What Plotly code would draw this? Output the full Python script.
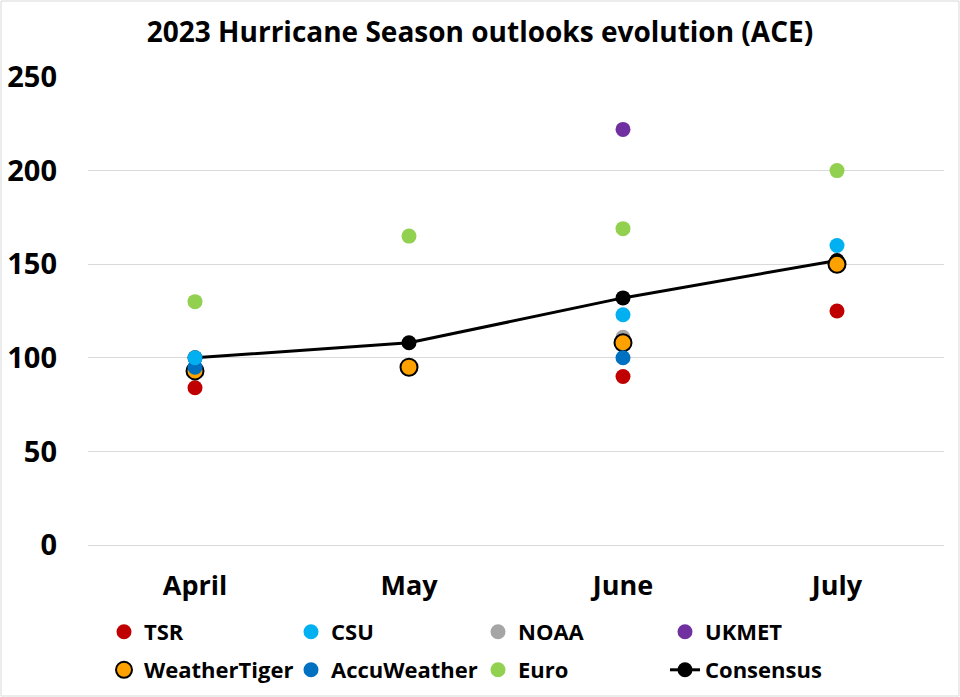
import plotly.graph_objects as go

months = ["April", "May", "June", "July"]

tsr = [84, None, 90, 125]
csu = [100, None, 123, 160]
noaa = [None, None, 111, None]
ukmet = [None, None, 222, None]
weathertiger = [93, 95, 108, 150]
accuweather = [95, None, 100, None]
euro = [130, 165, 169, 200]
consensus = [100, 108, 132, 152]

y_ticks = [0, 50, 100, 150, 200, 250]

FONT = "Open Sans"
W, H = 960, 697
ML, MR, MT, MB = 88, 16, 77, 152

fig = go.Figure()

def add_dots(name, vals, color, size=15, line=None, legendrank=None, legend="legend"):
    fig.add_trace(go.Scatter(
        x=months, y=vals, name=name, mode="markers",
        marker=dict(color=color, size=size,
                    line=line if line else dict(width=0)),
        legendrank=legendrank, legend=legend,
    ))

fig.add_trace(go.Scatter(
    x=months, y=consensus, name="Consensus", mode="lines+markers",
    line=dict(color="black", width=3),
    marker=dict(color="black", size=15), legendrank=8, legend="legend2",
))
add_dots("TSR", tsr, "#C00000", legendrank=1)
add_dots("NOAA", noaa, "#A5A5A5", legendrank=3)
add_dots("UKMET", ukmet, "#7030A0", legendrank=4)
add_dots("Euro", euro, "#92D050", legendrank=7, legend="legend2")
add_dots("WeatherTiger", weathertiger, "#FFA200", size=17,
         line=dict(color="black", width=2), legendrank=5, legend="legend2")
add_dots("AccuWeather", accuweather, "#0070C0", legendrank=6, legend="legend2")
add_dots("CSU", csu, "#00B0F0", legendrank=2)

pw = W - ML - MR
ph = H - MT - MB

legend_common = dict(orientation="h", x=(104 - ML) / pw, xanchor="left",
                     yanchor="top", entrywidth=142, entrywidthmode="pixels",
                     font=dict(size=22, family=FONT, color="black", weight="bold"),
                     itemsizing="trace", tracegroupgap=0,
                     bgcolor="rgba(0,0,0,0)")

fig.update_layout(
    width=W, height=H,
    margin=dict(l=ML, r=MR, t=MT, b=MB, autoexpand=False),
    paper_bgcolor="white", plot_bgcolor="white",
    font=dict(family=FONT, color="black"),
    title=dict(text="<b>2023 Hurricane Season outlooks evolution (ACE)</b>",
               x=0.5, xref="container", xanchor="center",
               y=1 - 32 / H, yanchor="middle",
               font=dict(size=28, family=FONT, color="black")),
    xaxis=dict(type="category", range=[-0.5, 3.5], showgrid=False,
               showline=False, zeroline=False,
               tickfont=dict(size=27, family=FONT, color="black", weight="bold"),
               ticklabelstandoff=22),
    yaxis=dict(range=[0, 250], tickvals=y_ticks, showgrid=True,
               gridcolor="#D9D9D9", gridwidth=1, zeroline=True,
               zerolinecolor="#D9D9D9", zerolinewidth=1,
               showline=False,
               tickfont=dict(size=29, family=FONT, color="black", weight="bold"),
               ticklabelstandoff=30),
    showlegend=True,
    legend=dict(legend_common, y=-(611 - MT - ph) / ph),
    legend2=dict(legend_common, y=-(649 - MT - ph) / ph),
    shapes=[dict(type="rect", xref="paper", yref="paper",
                 x0=-(ML - 1) / pw, x1=1 + (MR - 1) / pw,
                 y0=-(MB - 1) / ph, y1=1 + (MT - 1) / ph,
                 line=dict(color="#D9D9D9", width=1), layer="below")],
)

fig.write_html("out.html")
